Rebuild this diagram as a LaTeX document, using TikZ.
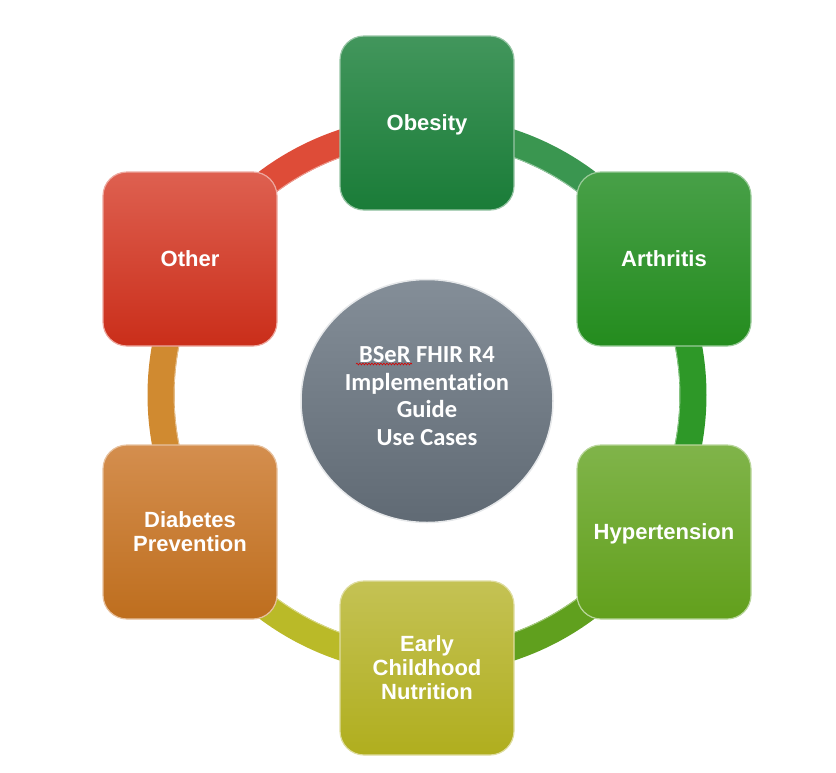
\documentclass[tikz,border=0pt]{standalone}
\usepackage{fontspec}
\setmainfont{Liberation Sans}
\newfontfamily\calfont[Ligatures=NoCommon]{Carlito}
\usetikzlibrary{shapes.geometric,decorations.pathmorphing}
\definecolor{obT}{RGB}{66,150,92}\definecolor{obB}{RGB}{26,124,56}
\definecolor{arT}{RGB}{72,160,72}\definecolor{arB}{RGB}{36,140,30}
\definecolor{hyT}{RGB}{128,180,74}\definecolor{hyB}{RGB}{98,160,28}
\definecolor{ecT}{RGB}{196,194,84}\definecolor{ecB}{RGB}{176,174,30}
\definecolor{dpT}{RGB}{212,142,78}\definecolor{dpB}{RGB}{190,110,30}
\definecolor{otT}{RGB}{222,96,80}\definecolor{otB}{RGB}{202,46,26}
\definecolor{ceT}{RGB}{132,142,152}\definecolor{ceB}{RGB}{96,106,116}
\definecolor{rOA}{RGB}{58,150,80}
\definecolor{rAH}{RGB}{46,152,40}
\definecolor{rHE}{RGB}{96,160,30}
\definecolor{rED}{RGB}{186,186,40}
\definecolor{rDO}{RGB}{208,138,48}
\definecolor{rOO}{RGB}{222,76,56}
\tikzset{
  ubox/.style 2 args={rectangle, rounded corners=24pt, minimum width=174pt,
    minimum height=174pt, top color=#1, bottom color=#2,
    draw=#1!55!white, line width=1.2pt, text=white, align=center,
    font=\fontsize{22}{24}\selectfont\bfseries, inner sep=2pt, text depth=0pt},
  ringseg/.style={line width=27pt, draw=#1},
}
\begin{document}
\begin{tikzpicture}[x=1pt,y=-1pt]
\useasboundingbox (0,0) rectangle (836,772);
\coordinate (C) at (427,395);
% ring segments
\foreach \a/\b/\c in {-90/-30/rOA, -30/30/rAH, 30/90/rHE, 90/150/rED, 150/210/rDO, 210/270/rOO}{
  \draw[ringseg=\c] ([shift={(\a:266)}]C) arc[start angle=\a, end angle=\b, radius=266];
  \draw[\c!40!white, line width=0.8pt, opacity=0.8] ([shift={(\a:253)}]C) arc[start angle=\a, end angle=\b, radius=253];
}
% boxes
\node[ubox={obT}{obB}] (ob) at (427,123) {Obesity};
\node[ubox={arT}{arB}] (ar) at (664,259) {Arthritis};
\node[ubox={hyT}{hyB}] (hy) at (664,532) {Hypertension};
\node[ubox={ecT}{ecB}] (ec) at (427,668) {Early\\Childhood\\Nutrition};
\node[ubox={dpT}{dpB}] (dp) at (190,532) {Diabetes\\Prevention};
\node[ubox={otT}{otB}] (ot) at (190,259) {Other};
% center
\node[ellipse, minimum width=252pt, minimum height=243pt, top color=ceT, bottom color=ceB,
      draw=white!80!ceT, line width=1.5pt] (core) at (427,401) {};
\node[text=white, align=center, font=\calfont\fontsize{24.5}{27.5}\selectfont\bfseries] (coretxt) at (427,396)
  {BSeR FHIR R4\\Implementation\\Guide\\Use Cases};
\draw[red!85!black, line width=0.6pt, decorate, decoration={snake, amplitude=0.9pt, segment length=3pt}]
  (356,364) -- (412,364);
\end{tikzpicture}
\end{document}
